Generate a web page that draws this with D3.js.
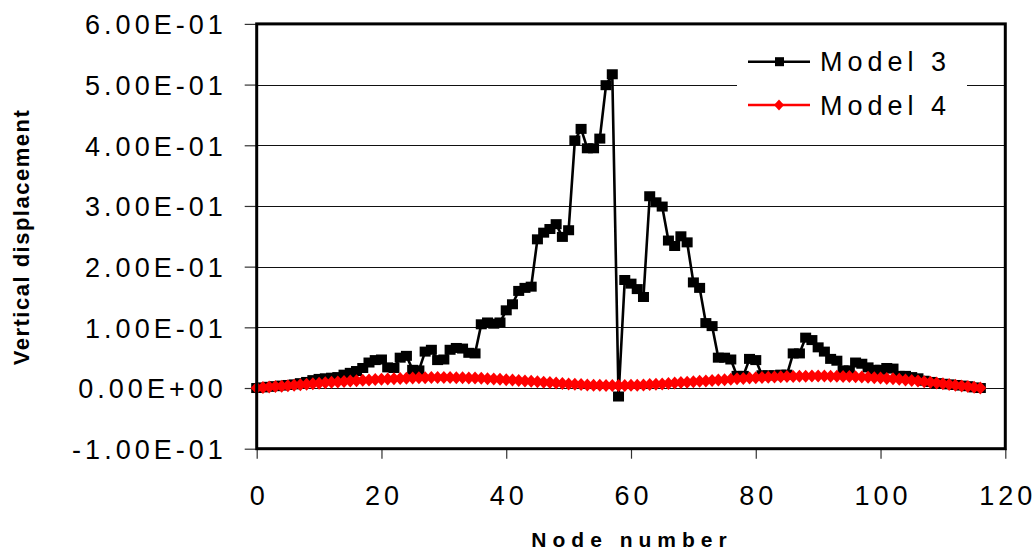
<!DOCTYPE html>
<html>
<head>
<meta charset="utf-8">
<script src="https://cdn.jsdelivr.net/npm/d3@7"></script>
<style>
  html, body { margin: 0; padding: 0; background: #fff; }
  svg { display: block; }
  text { font-family: "Liberation Sans", Arial, sans-serif; fill: #000; }
</style>
</head>
<body>
<svg id="chart" width="1036" height="551"></svg>
<script>
const nodes = [0,1,2,3,4,5,6,7,8,9,10,11,12,13,14,15,16,17,18,19,20,21,22,23,24,25,26,27,28,29,30,31,32,33,34,35,36,37,38,39,40,41,42,43,44,45,46,47,48,49,50,51,52,53,54,55,56,57,58,59,60,61,62,63,64,65,66,67,68,69,70,71,72,73,74,75,76,77,78,79,80,81,82,83,84,85,86,87,88,89,90,91,92,93,94,95,96,97,98,99,100,101,102,103,104,105,106,107,108,109,110,111,112,113,114,115,116];

const model3 = [0.000,0.001,0.002,0.003,0.004,0.005,0.006,0.008,0.010,0.013,
  0.015,0.016,0.017,0.018,0.022,0.025,0.028,0.033,0.042,0.046,
  0.047,0.034,0.033,0.050,0.053,0.030,0.029,0.060,0.063,0.046,
  0.047,0.063,0.066,0.065,0.058,0.057,0.105,0.108,0.106,0.108,
  0.128,0.138,0.160,0.165,0.167,0.245,0.256,0.262,0.270,0.249,
  0.260,0.408,0.427,0.395,0.395,0.411,0.499,0.517,-0.014,0.178,
  0.172,0.163,0.150,0.316,0.306,0.299,0.243,0.234,0.250,0.240,
  0.174,0.165,0.107,0.102,0.050,0.050,0.047,0.020,0.020,0.048,
  0.046,0.021,0.021,0.021,0.022,0.022,0.057,0.057,0.083,0.079,
  0.067,0.060,0.048,0.045,0.029,0.029,0.042,0.040,0.034,0.030,
  0.030,0.033,0.032,0.020,0.020,0.018,0.016,0.012,0.010,0.008,
  0.007,0.006,0.005,0.004,0.003,0.001,0.000];

const model4 = [0.0000,0.0007,0.0015,0.0023,0.0030,0.0038,0.0046,0.0054,0.0062,0.0070,
  0.0078,0.0086,0.0093,0.0100,0.0107,0.0114,0.0120,0.0127,0.0133,0.0139,
  0.0144,0.0149,0.0154,0.0158,0.0162,0.0165,0.0168,0.0170,0.0172,0.0173,
  0.0173,0.0172,0.0171,0.0169,0.0166,0.0163,0.0159,0.0154,0.0149,0.0143,
  0.0137,0.0131,0.0124,0.0117,0.0110,0.0103,0.0096,0.0089,0.0082,0.0075,
  0.0068,0.0062,0.0056,0.0051,0.0047,0.0044,0.0042,0.0041,0.0041,0.0042,
  0.0044,0.0047,0.0051,0.0056,0.0062,0.0068,0.0075,0.0082,0.0089,0.0096,
  0.0103,0.0110,0.0117,0.0124,0.0131,0.0138,0.0145,0.0151,0.0157,0.0163,
  0.0168,0.0173,0.0177,0.0181,0.0185,0.0188,0.0191,0.0193,0.0195,0.0196,
  0.0196,0.0196,0.0195,0.0193,0.0191,0.0188,0.0185,0.0181,0.0176,0.0171,
  0.0165,0.0158,0.0151,0.0143,0.0134,0.0125,0.0115,0.0104,0.0093,0.0082,
  0.0070,0.0058,0.0046,0.0034,0.0023,0.0011,0.0000];

const xTicks = [0,20,40,60,80,100,120];
const yTicks = [-0.1,0.0,0.1,0.2,0.3,0.4,0.5,0.6];
const yTickLabels = ["-1.00E-01","0.00E+00","1.00E-01","2.00E-01","3.00E-01","4.00E-01","5.00E-01","6.00E-01"];
const seriesNames = ["Model 3","Model 4"];
const seriesColors = ["#000000","#ff0000"];

const svg = d3.select("#chart");
const L = 256.7, R = 1005.3, T = 23.9, B = 448.7;

const x = d3.scaleLinear().domain([0,120]).range([L,R]);
const y = d3.scaleLinear().domain([-0.1,0.6]).range([B,T]);

// gridlines
svg.append("g").selectAll("line").data(yTicks.filter(v => v > -0.1 && v < 0.6)).join("line")
  .attr("x1", L).attr("x2", R)
  .attr("y1", d => Math.round(y(d)) + 0.5).attr("y2", d => Math.round(y(d)) + 0.5)
  .attr("stroke", "#111").attr("stroke-width", 1.2);

// y axis
const yAxis = d3.axisLeft(y).tickValues(yTicks)
  .tickFormat((d,i) => yTickLabels[i]).tickSize(12).tickPadding(0);
const gy = svg.append("g").attr("transform", `translate(${L},0)`).call(yAxis);
gy.select(".domain").remove();
gy.selectAll(".tick line").attr("stroke", "#333").attr("stroke-width", 1.2);
gy.selectAll(".tick text")
  .attr("x", -30).attr("dy", "0.36em")
  .style("font-size", "27px").style("letter-spacing", "4px")
  .attr("text-anchor", "end").attr("fill", "#000");

// x axis
const xAxis = d3.axisBottom(x).tickValues(xTicks).tickSize(10).tickPadding(0);
const gx = svg.append("g").attr("transform", `translate(0,${B})`).call(xAxis);
gx.select(".domain").remove();
gx.selectAll(".tick line").attr("stroke", "#333").attr("stroke-width", 1.2);
gx.selectAll(".tick text")
  .attr("y", 56).attr("dy", 0).attr("dx", "2px")
  .style("font-size", "27px").style("letter-spacing", "4px").attr("fill", "#000");

// series
const line = d3.line().x((d,i) => x(nodes[i])).y(d => y(d));

svg.append("path").datum(model3).attr("d", line)
  .attr("fill", "none").attr("stroke", seriesColors[0]).attr("stroke-width", 2.6)
  .attr("stroke-linejoin", "round");
svg.append("g").selectAll("rect").data(model3).join("rect")
  .attr("x", (d,i) => x(nodes[i]) - 5.5).attr("y", d => y(d) - 5)
  .attr("width", 11).attr("height", 10).attr("fill", seriesColors[0]);

svg.append("path").datum(model4).attr("d", line)
  .attr("fill", "none").attr("stroke", seriesColors[1]).attr("stroke-width", 2.6);
const diamond = (cx, cy, w, h) => `M${cx},${cy-h}L${cx+w},${cy}L${cx},${cy+h}L${cx-w},${cy}Z`;
svg.append("g").selectAll("path").data(model4).join("path")
  .attr("d", (d,i) => diamond(x(nodes[i]), y(d), 6, 6.5))
  .attr("fill", seriesColors[1]);

// frame
svg.append("rect").attr("x", L).attr("y", T).attr("width", R - L).attr("height", B - T)
  .attr("fill", "none").attr("stroke", "#000").attr("stroke-width", 3);

// legend
const lg = svg.append("g");
lg.append("rect").attr("x", 737).attr("y", 27).attr("width", 230).attr("height", 100).attr("fill", "#fff");
const legY = [61.7, 105];
seriesNames.forEach((name, i) => {
  const g = lg.append("g");
  g.append("line").attr("x1", 748).attr("x2", 810).attr("y1", legY[i]).attr("y2", legY[i])
    .attr("stroke", seriesColors[i]).attr("stroke-width", 2.6);
  if (i === 0) {
    g.append("rect").attr("x", 775).attr("y", legY[i] - 4.5).attr("width", 9).attr("height", 9).attr("fill", seriesColors[i]);
  } else {
    g.append("path").attr("d", diamond(779, legY[i], 5, 5.5)).attr("fill", seriesColors[i]);
  }
  g.append("text").attr("x", 820).attr("y", legY[i]).attr("dy", "0.36em")
    .style("font-size", "27px").style("letter-spacing", "5px").text(name);
});

// axis titles
svg.append("text").attr("x", 632).attr("y", 547).attr("text-anchor", "middle")
  .style("font-size", "21px").style("font-weight", "bold").style("letter-spacing", "6px")
  .text("Node number");
svg.append("text").attr("transform", "translate(29,237) rotate(-90)").attr("text-anchor", "middle")
  .style("font-size", "22px").style("font-weight", "bold").style("letter-spacing", "1.5px")
  .text("Vertical displacement");
</script>
</body>
</html>
